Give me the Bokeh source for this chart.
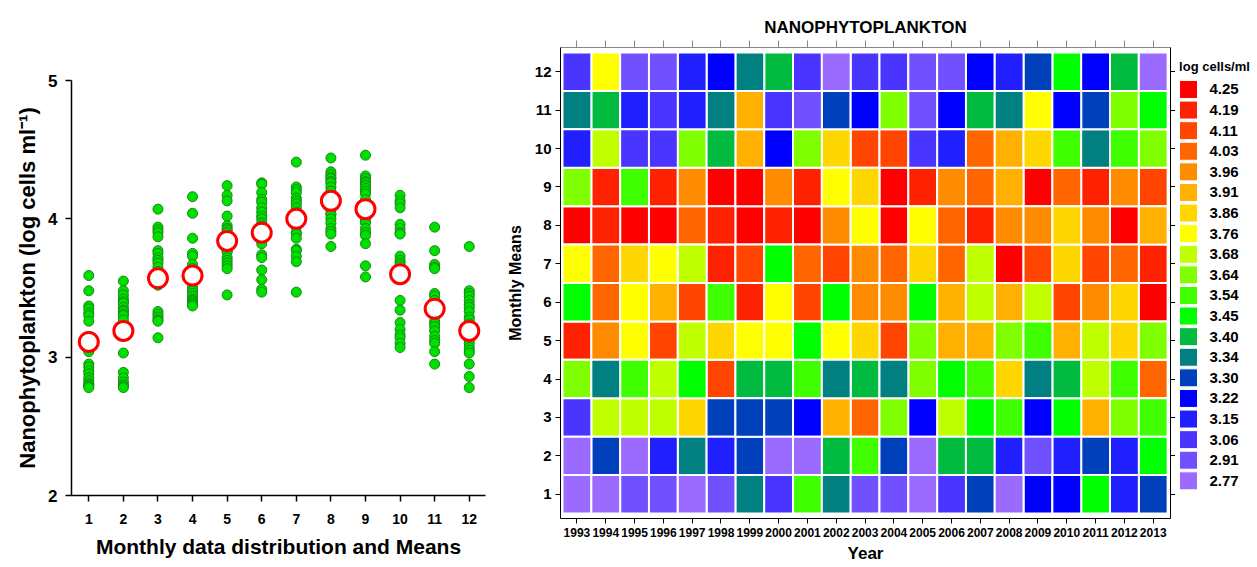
from bokeh.plotting import figure
from bokeh.models import Range1d, FixedTicker, ColumnDataSource, LinearAxis
from bokeh.core.properties import value
from bokeh.layouts import row
from bokeh.embed import file_html
from bokeh.resources import INLINE

FONT = "Liberation Sans"

months = list(range(1, 13))
years = list(range(1993, 2014))

# Left panel: individual monthly values (log cells/ml), one list per month
m01 = [3.59, 3.48, 3.37, 3.35, 3.32, 3.30, 3.26, 3.15, 3.10, 3.05, 3.04, 2.95, 2.93, 2.90, 2.88, 2.85, 2.83, 2.81, 2.80, 2.79, 2.78]
m02 = [3.55, 3.48, 3.45, 3.42, 3.40, 3.39, 3.36, 3.34, 3.33, 3.31, 3.30, 3.27, 3.20, 3.16, 3.03, 2.89, 2.85, 2.82, 2.80, 2.79, 2.78]
m03 = [4.07, 3.94, 3.92, 3.90, 3.87, 3.77, 3.75, 3.72, 3.70, 3.68, 3.65, 3.62, 3.58, 3.55, 3.52, 3.33, 3.31, 3.29, 3.27, 3.26, 3.14]
m04 = [4.16, 4.04, 3.86, 3.75, 3.73, 3.67, 3.64, 3.62, 3.58, 3.55, 3.53, 3.50, 3.48, 3.46, 3.44, 3.42, 3.41, 3.40, 3.39, 3.38, 3.37]
m05 = [4.24, 4.17, 4.13, 4.02, 3.95, 3.93, 3.92, 3.90, 3.88, 3.86, 3.84, 3.80, 3.78, 3.77, 3.76, 3.72, 3.70, 3.68, 3.66, 3.64, 3.45]
m06 = [4.26, 4.25, 4.19, 4.14, 4.12, 4.08, 4.05, 4.02, 4.00, 3.97, 3.95, 3.92, 3.88, 3.85, 3.82, 3.74, 3.72, 3.63, 3.56, 3.49, 3.47]
m07 = [4.41, 4.23, 4.21, 4.19, 4.15, 4.13, 4.11, 4.08, 4.05, 4.02, 3.99, 3.96, 3.94, 3.90, 3.89, 3.86, 3.78, 3.77, 3.73, 3.69, 3.47]
m08 = [4.44, 4.34, 4.32, 4.30, 4.29, 4.27, 4.26, 4.23, 4.20, 4.17, 4.14, 4.10, 4.07, 4.04, 4.03, 4.00, 3.97, 3.93, 3.91, 3.89, 3.80]
m09 = [4.46, 4.31, 4.29, 4.27, 4.26, 4.24, 4.22, 4.20, 4.18, 4.14, 4.10, 4.06, 4.03, 3.99, 3.97, 3.93, 3.90, 3.88, 3.82, 3.66, 3.58]
m10 = [4.17, 4.13, 4.11, 4.08, 3.96, 3.93, 3.90, 3.89, 3.73, 3.70, 3.68, 3.66, 3.58, 3.41, 3.34, 3.25, 3.20, 3.16, 3.14, 3.10, 3.07]
m11 = [3.94, 3.77, 3.67, 3.65, 3.64, 3.46, 3.44, 3.41, 3.38, 3.36, 3.34, 3.30, 3.26, 3.24, 3.22, 3.19, 3.15, 3.12, 3.10, 3.04, 2.95]
m12 = [3.80, 3.48, 3.46, 3.44, 3.41, 3.38, 3.36, 3.33, 3.29, 3.27, 3.24, 3.20, 3.15, 3.12, 3.10, 3.07, 3.05, 3.03, 2.95, 2.86, 2.78]
monthly_values = [m01, m02, m03, m04, m05, m06, m07, m08, m09, m10, m11, m12]
monthly_means = [3.11, 3.19, 3.57, 3.59, 3.84, 3.90, 4.00, 4.13, 4.07, 3.60, 3.35, 3.19]

# Right panel: legend classes
levels = [4.25, 4.19, 4.11, 4.03, 3.96, 3.91, 3.86, 3.76, 3.68, 3.64,
          3.54, 3.45, 3.40, 3.34, 3.30, 3.22, 3.15, 3.06, 2.91, 2.77]
level_labels = ["4.25", "4.19", "4.11", "4.03", "3.96", "3.91", "3.86", "3.76", "3.68", "3.64",
                "3.54", "3.45", "3.40", "3.34", "3.30", "3.22", "3.15", "3.06", "2.91", "2.77"]
level_colors = ["#FF0000", "#FF2200", "#FF4500", "#FF6600", "#FF8C00", "#FFB000", "#FFD700", "#FFFF00",
                "#C0FF00", "#80FF00", "#40FF00", "#00FF00", "#00BB40", "#008080", "#0040BB", "#0000FF",
                "#2020FF", "#4A35FF", "#7050FF", "#9B6BFF"]
legend_title = "log cells/ml"

# Heatmap class values: rows = months 1..12, columns = years 1993..2013
h01 = [2.77, 2.77, 2.91, 2.91, 2.77, 2.91, 3.34, 3.06, 3.54, 3.34, 2.91, 2.91, 2.77, 3.06, 3.30, 2.77, 3.22, 3.22, 3.45, 3.15, 3.30]
h02 = [2.77, 3.30, 2.77, 3.15, 3.34, 3.15, 3.30, 2.77, 2.77, 3.40, 3.54, 3.30, 2.77, 3.40, 3.40, 3.15, 2.91, 3.15, 3.30, 3.15, 3.45]
h03 = [3.06, 3.68, 3.68, 3.68, 3.86, 3.30, 3.30, 3.30, 3.22, 3.91, 4.03, 3.64, 3.22, 3.68, 3.45, 3.54, 3.22, 3.45, 3.91, 3.64, 3.54]
h04 = [3.64, 3.34, 3.54, 3.68, 3.45, 4.11, 3.40, 3.40, 3.54, 3.34, 3.40, 3.34, 3.64, 3.45, 3.54, 3.86, 3.34, 3.40, 3.68, 3.54, 4.03]
h05 = [4.19, 3.96, 3.76, 4.11, 3.68, 3.86, 3.76, 3.76, 3.45, 3.76, 3.86, 4.11, 3.64, 3.91, 3.91, 3.64, 3.54, 3.91, 3.68, 3.86, 3.64]
h06 = [3.45, 4.03, 3.76, 3.91, 4.11, 3.54, 4.19, 3.76, 4.11, 3.45, 3.96, 3.96, 3.45, 3.91, 3.68, 3.91, 3.68, 4.11, 3.96, 3.86, 4.25]
h07 = [3.76, 4.03, 3.86, 3.76, 3.68, 4.19, 4.11, 3.45, 4.03, 4.11, 3.96, 4.03, 3.86, 4.03, 3.68, 4.25, 4.11, 3.86, 4.11, 4.03, 4.19]
h08 = [4.25, 4.19, 4.25, 4.25, 4.03, 4.19, 4.25, 4.19, 4.25, 3.96, 3.76, 4.25, 3.76, 4.03, 4.19, 3.96, 3.96, 3.86, 3.96, 4.25, 3.91]
h09 = [3.64, 4.19, 3.54, 4.19, 3.96, 4.25, 4.25, 3.96, 4.19, 3.76, 3.86, 4.25, 4.19, 3.96, 4.03, 3.91, 4.25, 4.03, 4.19, 3.96, 4.11]
h10 = [3.15, 3.68, 3.06, 3.06, 3.64, 3.40, 3.91, 3.22, 3.64, 3.86, 4.11, 4.11, 3.06, 3.15, 4.03, 3.91, 3.86, 3.54, 3.34, 3.54, 3.64]
h11 = [3.34, 3.40, 3.15, 3.06, 3.15, 3.34, 3.91, 3.06, 2.91, 3.30, 3.22, 3.64, 2.91, 3.22, 3.40, 3.34, 3.76, 3.22, 3.30, 3.64, 3.45]
h12 = [3.06, 3.76, 2.91, 2.91, 3.15, 3.22, 3.34, 3.40, 3.06, 2.77, 3.06, 3.06, 2.91, 2.91, 3.22, 3.15, 3.30, 3.45, 3.22, 3.40, 2.77]
heat = [h01, h02, h03, h04, h05, h06, h07, h08, h09, h10, h11, h12]

H = 565


def style_axis(ax, label_size, tick_out=6):
    ax.major_label_text_font = FONT
    ax.major_label_text_font_style = "bold"
    ax.major_label_text_font_size = label_size
    ax.major_label_text_color = "black"
    ax.axis_label_text_font = FONT
    ax.axis_label_text_font_style = "bold"
    ax.axis_label_text_color = "black"
    ax.major_tick_out = tick_out
    ax.major_tick_in = 0
    ax.minor_tick_out = 0
    ax.minor_tick_in = 0
    ax.axis_line_color = "black"
    ax.major_tick_line_color = "black"


def blank_axis(ticks, color, tick_out):
    ax = LinearAxis(ticker=FixedTicker(ticks=ticks))
    ax.major_label_overrides = {t: "" for t in ticks}
    ax.major_label_text_font_size = "1px"
    ax.major_label_standoff = 0
    ax.axis_line_color = color
    ax.major_tick_line_color = color
    ax.major_tick_out = tick_out
    ax.major_tick_in = 0
    ax.minor_tick_out = 0
    ax.minor_tick_in = 0
    return ax


# ---------------- Left: scatter of monthly values and means ----------------
p1 = figure(width=500, height=H, x_range=Range1d(0.5, 12.47), y_range=Range1d(2, 5),
            output_backend="svg", toolbar_location=None, frame_align=False,
            min_border_left=71, min_border_right=15, min_border_top=80, min_border_bottom=70)
p1.outline_line_color = None
p1.grid.visible = False

xs, ys = [], []
for m, vals in zip(months, monthly_values):
    xs.extend([m] * len(vals))
    ys.extend(vals)
p1.scatter(xs, ys, size=10, fill_color="#00E000", line_color="#138A13", line_width=1)
p1.scatter(months, monthly_means, size=19, fill_color="white", line_color="#FF0000", line_width=3)

p1.xaxis.ticker = FixedTicker(ticks=months)
p1.yaxis.ticker = FixedTicker(ticks=[2, 3, 4, 5])
style_axis(p1.xaxis[0], "14px", 6)
style_axis(p1.yaxis[0], "17px", 6)
p1.xaxis.axis_label = "Monthly data distribution and Means"
p1.xaxis.axis_label_text_font_size = "21px"
p1.xaxis.major_label_standoff = 12
p1.xaxis.axis_label_standoff = 8
p1.yaxis.axis_label = "Nanophytoplankton (log cells ml\u207b\u00b9)"
p1.yaxis.axis_label_text_font_size = "22px"
p1.yaxis.major_label_standoff = 8
p1.yaxis.axis_label_standoff = 5
p1.xaxis.axis_line_width = 1.5
p1.yaxis.axis_line_width = 1.5
p1.xaxis.major_tick_line_width = 1.5
p1.yaxis.major_tick_line_width = 1.5

# ---------------- Middle: heatmap ----------------
p2 = figure(width=675, height=H, x_range=Range1d(1992.43, 2013.6), y_range=Range1d(0.37, 12.63),
            output_backend="svg", toolbar_location=None, title="NANOPHYTOPLANKTON", frame_align=False,
            min_border_left=60, min_border_right=2, min_border_top=47, min_border_bottom=47)
p2.outline_line_color = None
p2.grid.visible = False
p2.title.align = "center"
p2.title.text_font = FONT
p2.title.text_font_style = "bold"
p2.title.text_font_size = "17px"
p2.title.text_color = "black"
p2.title.standoff = 8

for lev, col in zip(levels, level_colors):
    cx, cy = [], []
    for m, rowvals in zip(months, heat):
        for yr, v in zip(years, rowvals):
            if v == lev:
                cx.append(yr)
                cy.append(m)
    src = ColumnDataSource(dict(x=cx, y=cy))
    p2.rect(x="x", y="y", width=1, height=1, source=src, fill_color=col,
            line_color="white", line_width=2)

p2.xaxis.ticker = FixedTicker(ticks=years)
p2.yaxis.ticker = FixedTicker(ticks=months)
style_axis(p2.xaxis[0], "12px", 5)
style_axis(p2.yaxis[0], "15px", 5)
p2.xaxis.major_label_standoff = 4
p2.xaxis.axis_label = "Year"
p2.xaxis.axis_label_text_font_size = "17px"
p2.xaxis.axis_label_standoff = 4
p2.yaxis.axis_label = "Monthly Means"
p2.yaxis.axis_label_text_font_size = "16px"
p2.yaxis.major_label_standoff = 4
p2.yaxis.axis_label_standoff = 8

p2.add_layout(blank_axis(years, "#888888", 7), "above")
p2.add_layout(blank_axis(months, "black", 5), "right")

# ---------------- Right: colour key ----------------
# y in units of key rows (0 = first swatch), x in screen pixels of this small panel
p3 = figure(width=77, height=H, x_range=Range1d(0, 77), y_range=Range1d(23.11, -4.32),
            output_backend="svg", toolbar_location=None, frame_align=False,
            min_border_left=0, min_border_right=0, min_border_top=0, min_border_bottom=0)
p3.axis.visible = False
p3.grid.visible = False
p3.outline_line_color = None
key_idx = list(range(len(levels)))
key_src = ColumnDataSource(dict(y=key_idx, color=level_colors, label=level_labels))
p3.rect(x=13, y="y", width=18, height=18, width_units="screen", height_units="screen",
        fill_color="color", line_color="white", line_width=1, source=key_src)
p3.text(x=34, y="y", text="label", source=key_src, text_font=value(FONT), text_font_style="bold",
        text_font_size="15px", text_baseline="middle", text_align="left", text_color="black")
p3.text(x=[39], y=[-1.12], text=[legend_title], text_font=value(FONT), text_font_style="bold",
        text_font_size="13px", text_baseline="middle", text_align="center", text_color="black")

layout = row(p1, p2, p3)
open("out.html", "w").write(file_html(layout, INLINE))
